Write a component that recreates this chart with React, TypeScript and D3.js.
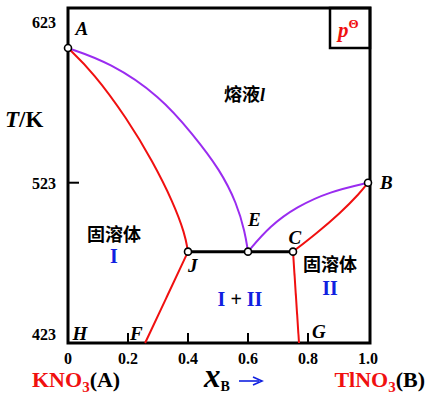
import { scaleLinear, line, curveBasis } from 'd3';

// composition x_B, temperature T/K
const liquidusA: [number, number][] = [[0, 607], [0.14, 598], [0.307, 577], [0.417, 553], [0.507, 531], [0.563, 510], [0.59, 492], [0.6, 480]];
const solidusA: [number, number][] = [[0, 607], [0.083, 592], [0.197, 563], [0.283, 536], [0.35, 511], [0.39, 491], [0.4, 480]];
const liquidusB: [number, number][] = [[0.6, 480], [0.673, 496], [0.762, 508], [0.873, 517.5], [1, 523]];
const solidusB: [number, number][] = [[0.75, 480], [0.829, 491.5], [0.907, 504], [0.973, 516.5], [1, 523]];
const solvusA: [number, number][] = [[0.4, 480], [0.33, 452], [0.257, 423]];
const solvusB: [number, number][] = [[0.75, 480], [0.77, 423]];
const eutectic: [number, number][] = [[0.4, 480], [0.75, 480]];

const points = [
  { name: 'A', x: 0, t: 607 },
  { name: 'B', x: 1, t: 523 },
  { name: 'E', x: 0.6, t: 480 },
  { name: 'J', x: 0.4, t: 480 },
  { name: 'C', x: 0.75, t: 480 },
];
const pointLabels = [
  { name: 'A', x: 0.025, t: 615 },
  { name: 'B', x: 1.04, t: 519 },
  { name: 'E', x: 0.6, t: 496 },
  { name: 'C', x: 0.735, t: 485 },
  { name: 'J', x: 0.4, t: 467 },
  { name: 'H', x: 0.015, t: 425 },
  { name: 'F', x: 0.207, t: 425 },
  { name: 'G', x: 0.813, t: 426 },
];

const xTicks = [0, 0.2, 0.4, 0.6, 0.8, 1.0];
const yTicks = [423, 523, 623];

const serif = '"Liberation Serif", "Times New Roman", serif';
const cjk = '"Noto Sans CJK SC", sans-serif';
const RED = '#f01010';
const PURPLE = '#9a2cf0';
const BLUE = '#1020e0';

const App = () => {
  const left = 68, right = 368, top = 8, bottom = 343;
  const x = scaleLinear().domain([0, 1]).range([left, right]);
  const y = scaleLinear().domain([423, 632]).range([bottom, top]);
  const path = line<[number, number]>().x(d => x(d[0])).y(d => y(d[1])).curve(curveBasis);
  const straight = line<[number, number]>().x(d => x(d[0])).y(d => y(d[1]));

  return (
    <svg width={427} height={396} style={{ position: 'absolute', left: 0, top: 0, background: '#fff' }}>
      {/* frame */}
      <rect x={left} y={top} width={right + 2 - left} height={bottom - top} fill="none" stroke="#000" strokeWidth={3} />
      <rect x={330} y={top} width={right + 2 - 330} height={40} fill="none" stroke="#000" strokeWidth={2.5} />
      <text x={338} y={37} fontFamily={serif} fontStyle="italic" fontWeight="bold" fontSize={21} fill={RED}>
        p<tspan fontStyle="normal" fontSize={13} dy={-9}>Θ</tspan>
      </text>

      {/* ticks */}
      {xTicks.filter(v => v > 0 && v < 1).map(v => (
        <line key={v} x1={x(v)} x2={x(v)} y1={bottom} y2={bottom - 10} stroke="#000" strokeWidth={2} />
      ))}
      <line x1={left} x2={left + 11} y1={y(523)} y2={y(523)} stroke="#000" strokeWidth={2} />
      {xTicks.map(v => (
        <text key={v} x={x(v)} y={364} textAnchor="middle" fontFamily={serif} fontWeight="bold" fontSize={16}>
          {v === 0 ? '0' : v.toFixed(1)}
        </text>
      ))}
      {yTicks.map(v => (
        <text key={v} x={56} y={Math.min(Math.max(y(v), top + 6), bottom - 9) + 6} textAnchor="end"
          fontFamily={serif} fontWeight="bold" fontSize={16}>{v}</text>
      ))}

      {/* axis titles */}
      <text x={5} y={127} fontFamily={serif} fontWeight="bold" fontSize={23}>
        <tspan fontStyle="italic">T</tspan>/K
      </text>
      <text x={32} y={387} fontFamily={serif} fontWeight="bold" fontSize={22} fill={RED}>
        KNO<tspan fontSize={15} dy={5}>3</tspan><tspan dy={-5} fill="#000">(A)</tspan>
      </text>
      <text x={425} y={387} textAnchor="end" fontFamily={serif} fontWeight="bold" fontSize={22} fill={RED}>
        TlNO<tspan fontSize={15} dy={5}>3</tspan><tspan dy={-5} fill="#000">(B)</tspan>
      </text>
      <text x={204} y={387} fontFamily={serif} fontWeight="bold" fontSize={33}>
        <tspan fontStyle="italic">x</tspan><tspan fontSize={14} dy={4}>B</tspan>
      </text>
      <line x1={239} x2={259} y1={381} y2={381} stroke={BLUE} strokeWidth={1.6} />
      <path d="M253,377 L262,381 L253,385" fill="none" stroke={BLUE} strokeWidth={1.6} />

      {/* phase boundaries */}
      <path d={path(liquidusA) ?? ''} fill="none" stroke={PURPLE} strokeWidth={2} />
      <path d={path(liquidusB) ?? ''} fill="none" stroke={PURPLE} strokeWidth={2} />
      <path d={path(solidusA) ?? ''} fill="none" stroke={RED} strokeWidth={2} />
      <path d={path(solidusB) ?? ''} fill="none" stroke={RED} strokeWidth={2} />
      <path d={path(solvusA) ?? ''} fill="none" stroke={RED} strokeWidth={2} />
      <path d={straight(solvusB) ?? ''} fill="none" stroke={RED} strokeWidth={2} />
      <path d={straight(eutectic) ?? ''} fill="none" stroke="#000" strokeWidth={3} />

      {points.map(p => (
        <circle key={p.name} cx={x(p.x)} cy={y(p.t)} r={3.5} fill="#fff" stroke="#000" strokeWidth={1.6} />
      ))}
      {pointLabels.map(p => (
        <text key={p.name} x={x(p.x)} y={y(p.t)} fontFamily={serif}
          fontStyle="italic" fontWeight="bold" fontSize={19}>{p.name}</text>
      ))}

      {/* region labels */}
      <text x={224} y={101} fontFamily={cjk} fontWeight="bold" fontSize={18}>
        熔液<tspan fontFamily={serif} fontStyle="italic">l</tspan>
      </text>
      <text x={87} y={241} fontFamily={cjk} fontWeight="bold" fontSize={18}>固溶体</text>
      <text x={114} y={263} textAnchor="middle" fontFamily={serif} fontWeight="bold" fontSize={20} fill={BLUE}>I</text>
      <text x={303} y={271} fontFamily={cjk} fontWeight="bold" fontSize={18}>固溶体</text>
      <text x={330} y={295} textAnchor="middle" fontFamily={serif} fontWeight="bold" fontSize={20} fill={BLUE}>II</text>
      <text x={240} y={306} textAnchor="middle" fontFamily={serif} fontWeight="bold" fontSize={20} fill={BLUE}>
        I <tspan fill="#000">+</tspan> II
      </text>
    </svg>
  );
};

export default App;
